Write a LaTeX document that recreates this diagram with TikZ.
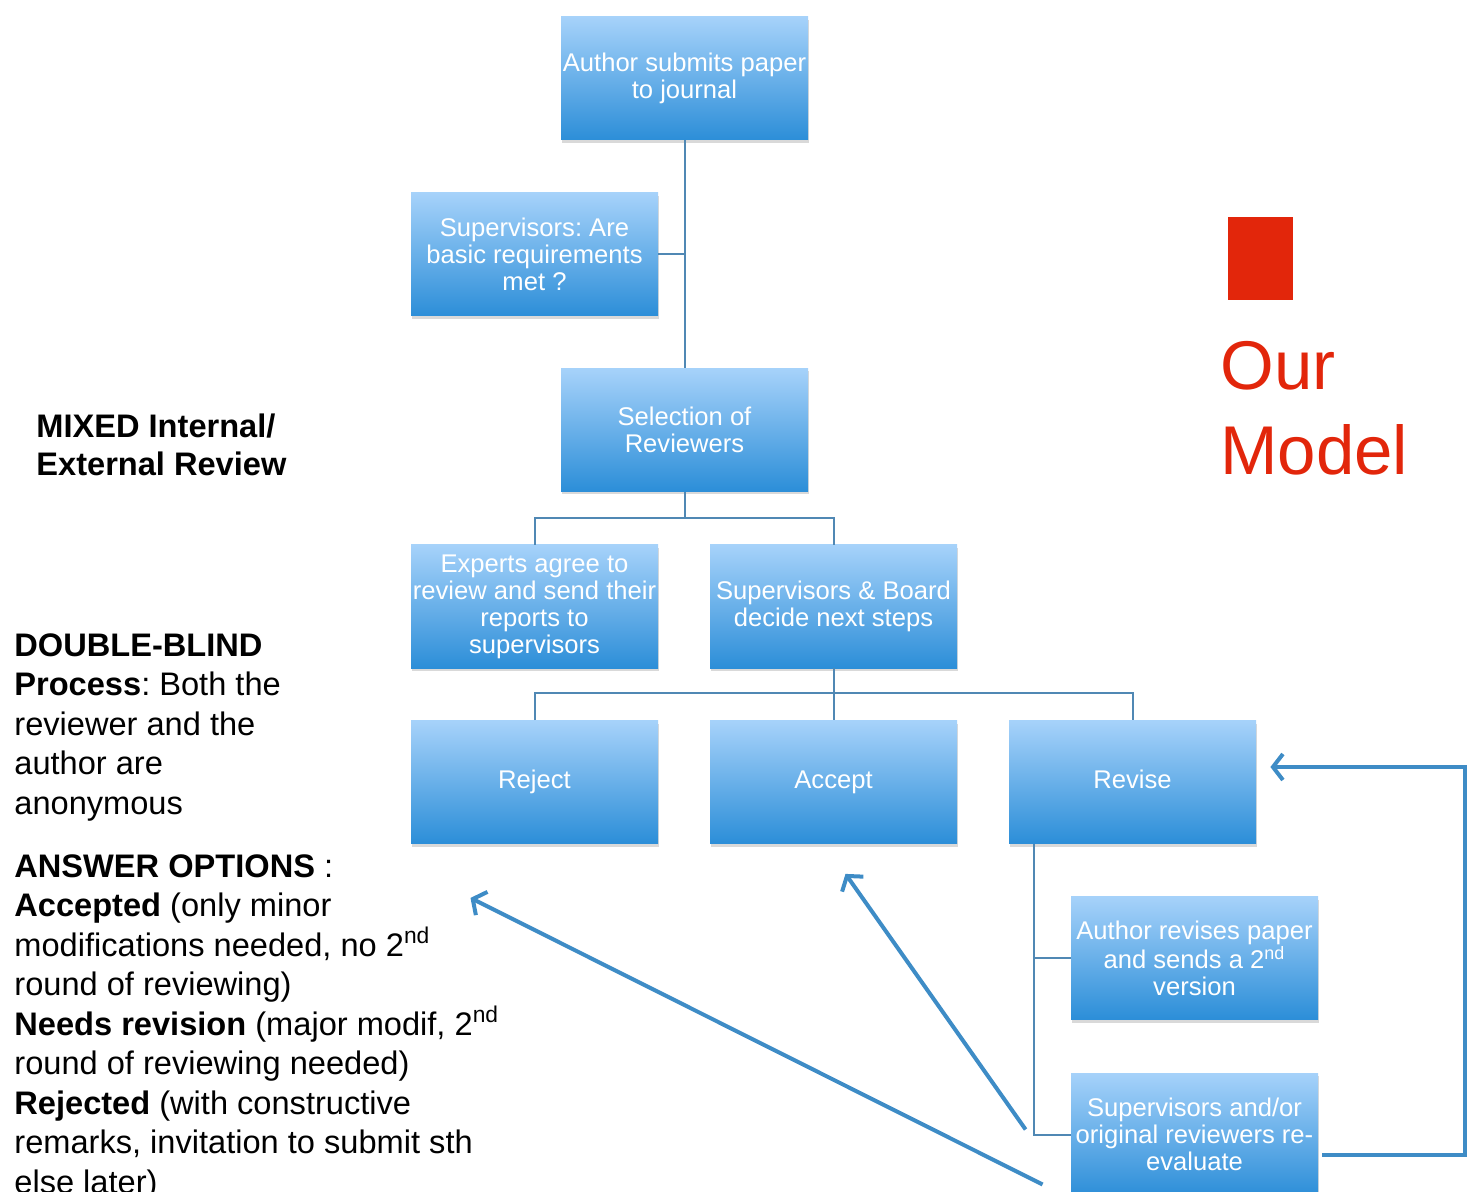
\documentclass[tikz,border=0pt]{standalone}
\usepackage{fontspec}
\setmainfont{Liberation Sans}
\frenchspacing
\usetikzlibrary{arrows.meta,shadows}
\definecolor{boxtop}{HTML}{A6D2FA}
\definecolor{boxbot}{HTML}{2C8ED8}
\definecolor{linkblue}{HTML}{5088B4}
\definecolor{arrowblue}{HTML}{3E8CC6}
\definecolor{ourred}{HTML}{E2260B}
\begin{document}
\begin{tikzpicture}[x=0.5pt,y=-0.5pt,
  stepbox/.style={rectangle, minimum width=123.5pt, minimum height=61.5pt, inner sep=0pt,
    top color=boxtop, bottom color=boxbot, text=white, align=center,
    font=\fontsize{12.8}{13.5}\selectfont,
    drop shadow={shadow xshift=0.5pt, shadow yshift=-1.5pt, opacity=0.3}},
  onebox/.style={stepbox, text height=9.2pt, text depth=2.7pt},
  link/.style={draw=linkblue, line width=1pt},
  back/.style={draw=arrowblue, line width=2pt, -{Straight Barb[length=5pt,width=13pt]}},
  note/.style={anchor=base west, align=left, inner sep=0pt, font=\fontsize{16.3}{19.75}\selectfont}]
\useasboundingbox (0,0) rectangle (1468,1192);

% boxes of the process
\node[stepbox] (submit) at (684.5,78.5) {Author submits paper\\to journal};
\node[stepbox] (basic) at (534.5,254.5) {Supervisors: Are\\basic requirements\\met ?};
\node[stepbox] (select) at (684.5,430) {Selection of\\Reviewers};
\node[stepbox] (experts) at (534.5,606.5) {Experts agree to\\review and send their\\reports to\\supervisors};
\node[stepbox] (board) at (833.5,606.5) {Supervisors \& Board\\decide next steps};
\node[onebox] (reject) at (534.5,782) {Reject};
\node[onebox] (accept) at (833.5,782) {Accept};
\node[onebox] (revise) at (1132.5,782) {Revise};
\node[stepbox] (revised) at (1194.5,958) {Author revises paper\\and sends a 2\textsuperscript{nd}\\version};
\node[stepbox] (reeval) at (1194.5,1134.5) {Supervisors and/or\\original reviewers re-\\evaluate};

% tree lines
\draw[link] (submit) -- (select);
\draw[link] (basic.east) -- (basic.east -| submit.south);
\draw[link] (select.south) -- ++(0,26) coordinate (fork1);
\draw[link] (experts.north) |- (fork1) -| (board.north);
\draw[link] (board.south) -- ++(0,25) coordinate (fork2);
\draw[link] (reject.north) |- (fork2) -| (revise.north);
\draw[link] (fork2) -- (accept.north);
\draw[link] ([xshift=12.5pt]revise.south west) |- (revised.west);
\draw[link] ([xshift=12.5pt]revise.south west) |- (reeval.west);

% feedback arrows
\draw[back] ([shift={(2pt,-10pt)}]reeval.east) -- ++(71.5pt,0) |- ([shift={(7pt,7.5pt)}]revise.east);
\draw[back] ([shift={(-22.5pt,2.5pt)}]reeval.west) -- ([shift={(6pt,-15pt)}]accept.south);
\draw[back] ([shift={(-14pt,-25pt)}]reeval.west) -- ([shift={(-32pt,-27pt)}]reject.south);

% red label (base = last line)
\fill[ourred] (1228,217) rectangle (1293,300);
\node[anchor=base west, inner sep=0pt, text=ourred, font=\fontsize{34.5}{42.5}\selectfont, align=left] (model) at (1220,475) {Our\\Model};

% left notes (base = last line)
\node[note, font=\fontsize{16.3}{19}\selectfont] (mixed) at (36,476) {\textbf{MIXED Internal/}\\\textbf{External Review}};
\node[note] (blind) at (14,814) {\textbf{DOUBLE-BLIND}\\\textbf{Process}: Both the\\reviewer and the\\author are\\anonymous};
\node[note] (options) at (14,1193) {\textbf{ANSWER OPTIONS} :\\\textbf{Accepted} (only minor\\modifications needed, no 2\textsuperscript{nd}\\round of reviewing)\\\textbf{Needs revision} (major modif, 2\textsuperscript{nd}\\round of reviewing needed)\\\textbf{Rejected} (with constructive\\remarks, invitation to submit sth\\else later)};
\end{tikzpicture}
\end{document}
